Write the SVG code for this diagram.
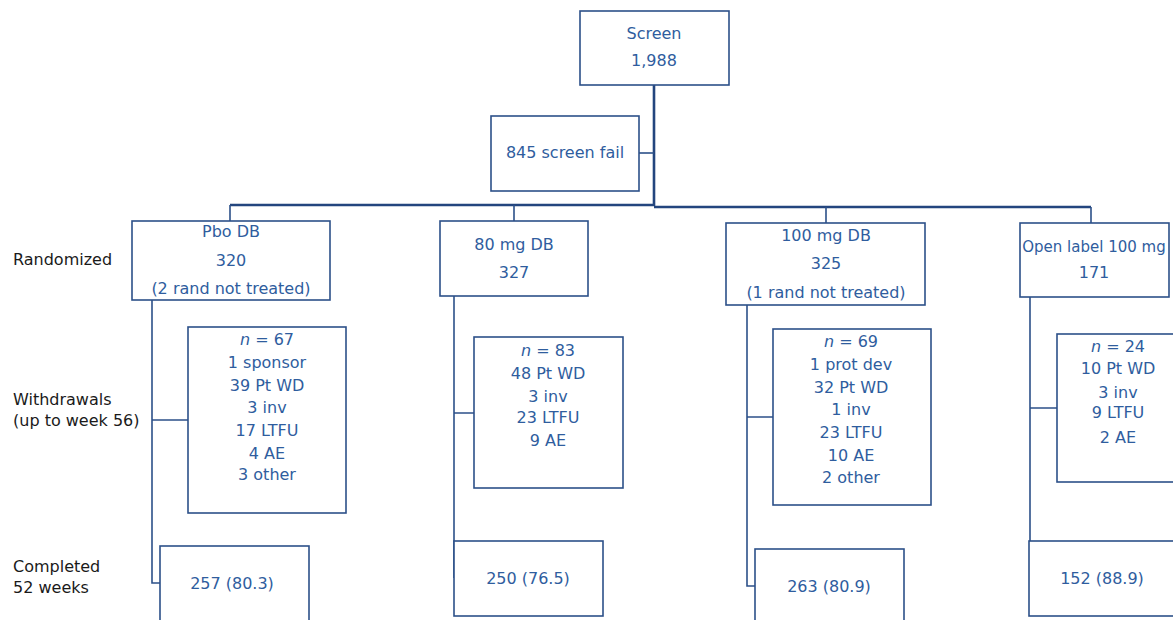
<svg xmlns="http://www.w3.org/2000/svg" width="1173" height="620" viewBox="0 0 1173 620">
<style>
.box{fill:#fff;stroke:#2C5089;stroke-width:1.6}
.ln{fill:none;stroke:#2C5089;stroke-width:1.6}
.tk{fill:none;stroke:#23457E;stroke-width:2.6}
.t{font-family:"DejaVu Sans",sans-serif;font-size:16px;fill:#2F5D9E;text-anchor:middle}
.lb{font-family:"DejaVu Sans",sans-serif;font-size:16px;fill:#1a1a1a}
.it{font-style:italic}
</style>
<rect width="1173" height="620" fill="#fff"/>
<g id="connectors">
<path class="tk" d="M654,85 V206 M230,205 H654 M654,207 H1091"/>
<path class="ln" d="M639,153 H654"/>
<path class="ln" d="M230,205 V221 M514,205 V221 M826,207 V223 M1091,207 V223"/>
<path class="ln" d="M152,300 V583 H160 M152,420 H188"/>
<path class="ln" d="M454,296 V578 M454,413 H474"/>
<path class="ln" d="M747,305 V586 H755 M747,417 H773"/>
<path class="ln" d="M1030,297 V578 M1030,408 H1057"/>
</g>
<g id="labels">
<text class="lb" x="13" y="265">Randomized</text>
<text class="lb" x="13" y="405">Withdrawals</text>
<text class="lb" x="13" y="426">(up to week 56)</text>
<text class="lb" x="13" y="572">Completed</text>
<text class="lb" x="13" y="593">52 weeks</text>
</g>
<g id="screen">
<rect class="box" x="580" y="11" width="149" height="74"/>
<text class="t" x="654" y="39">Screen</text>
<text class="t" x="654" y="66">1,988</text>
</g>
<g id="screenfail">
<rect class="box" x="491" y="116" width="148" height="75"/>
<text class="t" x="565" y="158">845 screen fail</text>
</g>
<g id="pbo">
<rect class="box" x="132" y="221" width="198" height="79"/>
<text class="t" x="231" y="237">Pbo DB</text>
<text class="t" x="231" y="266">320</text>
<text class="t" x="231" y="294">(2 rand not treated)</text>
</g>
<g id="mg80">
<rect class="box" x="440" y="221" width="148" height="75"/>
<text class="t" x="514" y="250">80 mg DB</text>
<text class="t" x="514" y="278">327</text>
</g>
<g id="mg100">
<rect class="box" x="726" y="223" width="199" height="82"/>
<text class="t" x="826" y="241">100 mg DB</text>
<text class="t" x="826" y="269">325</text>
<text class="t" x="826" y="298">(1 rand not treated)</text>
</g>
<g id="openlabel">
<rect class="box" x="1020" y="223" width="149" height="74"/>
<text class="t" x="1094" y="252" style="font-size:15px">Open label 100 mg</text>
<text class="t" x="1094" y="278">171</text>
</g>
<g id="pbo_wd">
<rect class="box" x="188" y="327" width="158" height="186"/>
<text class="t" x="267" y="345"><tspan class="it">n</tspan> = 67</text>
<text class="t" x="267" y="368">1 sponsor</text>
<text class="t" x="267" y="391">39 Pt WD</text>
<text class="t" x="267" y="413">3 inv</text>
<text class="t" x="267" y="436">17 LTFU</text>
<text class="t" x="267" y="459">4 AE</text>
<text class="t" x="267" y="480">3 other</text>
</g>
<g id="mg80_wd">
<rect class="box" x="474" y="337" width="149" height="151"/>
<text class="t" x="548" y="356"><tspan class="it">n</tspan> = 83</text>
<text class="t" x="548" y="379">48 Pt WD</text>
<text class="t" x="548" y="402">3 inv</text>
<text class="t" x="548" y="423">23 LTFU</text>
<text class="t" x="548" y="446">9 AE</text>
</g>
<g id="mg100_wd">
<rect class="box" x="773" y="329" width="158" height="176"/>
<text class="t" x="851" y="347"><tspan class="it">n</tspan> = 69</text>
<text class="t" x="851" y="370">1 prot dev</text>
<text class="t" x="851" y="393">32 Pt WD</text>
<text class="t" x="851" y="415">1 inv</text>
<text class="t" x="851" y="438">23 LTFU</text>
<text class="t" x="851" y="461">10 AE</text>
<text class="t" x="851" y="483">2 other</text>
</g>
<g id="openlabel_wd">
<rect class="box" x="1057" y="334" width="130" height="148"/>
<text class="t" x="1118" y="352"><tspan class="it">n</tspan> = 24</text>
<text class="t" x="1118" y="374">10 Pt WD</text>
<text class="t" x="1118" y="398">3 inv</text>
<text class="t" x="1118" y="418">9 LTFU</text>
<text class="t" x="1118" y="443">2 AE</text>
</g>
<g id="pbo_comp">
<rect class="box" x="160" y="546" width="149" height="90"/>
<text class="t" x="232" y="589">257 (80.3)</text>
</g>
<g id="mg80_comp">
<rect class="box" x="454" y="541" width="149" height="75"/>
<text class="t" x="528" y="584">250 (76.5)</text>
</g>
<g id="mg100_comp">
<rect class="box" x="755" y="549" width="149" height="90"/>
<text class="t" x="829" y="592">263 (80.9)</text>
</g>
<g id="openlabel_comp">
<rect class="box" x="1029" y="541" width="160" height="75"/>
<text class="t" x="1102" y="584">152 (88.9)</text>
</g>
</svg>
